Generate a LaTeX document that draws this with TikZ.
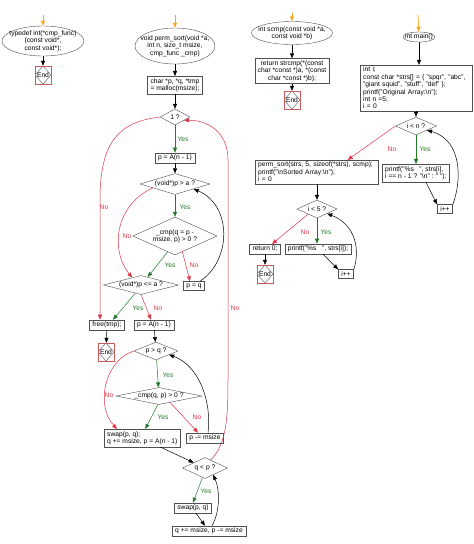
\documentclass[tikz,border=0pt]{standalone}
\usepackage{fontspec}
\setmainfont{Liberation Sans}
\usetikzlibrary{shapes.geometric,arrows.meta}
\definecolor{yescol}{RGB}{34,120,40}
\definecolor{nocol}{RGB}{225,50,70}
\definecolor{startcol}{RGB}{250,165,30}
\definecolor{linecol}{RGB}{80,80,80}
\definecolor{endcol}{RGB}{205,90,90}
\begin{document}
\begin{tikzpicture}[x=1pt,y=-1pt,
  font=\fontsize{6.7}{7.4}\selectfont,
  proc/.style={rectangle,draw=linecol,fill=white,align=center,inner xsep=3pt,inner ysep=2pt},
  term/.style={ellipse,draw=linecol,fill=white,align=center,inner xsep=-12pt,inner ysep=-6pt},
  decide/.style={diamond,draw=linecol,fill=white,align=center,aspect=3,inner sep=-3pt},
  stopbox/.style={rectangle,draw=endcol,minimum width=16pt,minimum height=18pt,inner sep=0pt,
    path picture={\draw[linecol] (path picture bounding box.north) -- (path picture bounding box.east)
      -- (path picture bounding box.south) -- (path picture bounding box.west) -- cycle;}},
  flow/.style={-{Triangle[length=5pt,width=4pt]},black,line width=0.5pt},
  yesarr/.style={flow,yescol},
  noarr/.style={flow,nocol},
  startarr/.style={flow,startcol,line width=0.8pt},
  yeslbl/.style={text=yescol,inner sep=0pt},
  nolbl/.style={text=nocol,inner sep=0pt}]
\useasboundingbox (0,0) rectangle (474,544);

% typedef
\coordinate (s1) at (43,15);
\node[term,minimum width=82pt,minimum height=30pt] (tdef) at (43,41) {typedef int(*cmp\_func)\\(const void*,\\const void*);};
\node[stopbox] (e1) at (43,75) {End};
\draw[startarr] (s1) -- (tdef);
\draw[flow] (tdef) -- (e1);

% perm_sort
\coordinate (s2) at (175,15);
\node[term,minimum width=80pt,minimum height=36pt] (psort) at (175,46) {void perm\_sort(void *a,\\int n, size\_t msize,\\cmp\_func \_cmp)};
\node[proc] (alloc) at (175,85) {char *p, *q, *tmp\\= malloc(msize);};
\node[decide,minimum width=30pt,minimum height=16pt] (one) at (175,117) {1 ?};
\node[proc] (pinit) at (175,158) {p = A(n - 1)};
\node[decide,minimum width=70pt,minimum height=21pt] (pgta) at (175,184) {(void*)p > a ?};
\node[decide,minimum width=84pt,minimum height=38pt] (cmpa) at (175,236) {\_cmp(q = p -\\msize, p) > 0 ?};
\node[decide,minimum width=75pt,minimum height=19pt] (plea) at (141,285) {(void*)p <= a ?};
\node[proc] (peqq) at (194,286) {p = q};
\node[proc] (free) at (107,325) {free(tmp);};
\node[proc] (preset) at (154,325) {p = A(n - 1)};
\node[stopbox] (e2) at (106,352) {End};
\node[decide,minimum width=44pt,minimum height=18pt] (pgtq) at (156,351) {p > q ?};
\node[decide,minimum width=86pt,minimum height=17pt] (cmpb) at (159,396) {\_cmp(q, p) > 0 ?};
\node[proc,align=left,anchor=west] (swapa) at (104,438) {swap(p, q);\\q += msize, p = A(n - 1)};
\node[proc] (pdec) at (205,438) {p -= msize};
\node[decide,minimum width=45pt,minimum height=21pt] (qltp) at (205,468) {q < p ?};
\node[proc] (swapb) at (193,508) {swap(p, q)};
\node[proc] (qstep) at (209,531) {q += msize, p -= msize};

\draw[startarr] (s2) -- (psort);
\draw[flow] (psort) -- (alloc);
\draw[flow] (alloc) -- (one);
\draw[yesarr] (one) -- (pinit);
\draw[noarr] (one.west) .. controls (120,122) and (100,140) .. (100,200) -- ([xshift=-7pt]free.north);
\draw[flow] (pinit) -- (pgta);
\draw[yesarr] (pgta) -- (cmpa);
\draw[noarr] (pgta.190) .. controls (115,205) and (110,250) .. (plea.140);
\draw[yesarr] (cmpa.245) -- (plea.50);
\draw[noarr] (cmpa.-65) -- ([xshift=-4pt]peqq.north);
\draw[flow] ([xshift=6pt]peqq.north) .. controls (232,260) and (232,205) .. (pgta.-15);
\draw[yesarr] (plea.235) -- ([xshift=6pt]free.north);
\draw[noarr] (plea.south) -- ([xshift=-3pt]preset.north);
\draw[flow] (free) -- (e2);
\draw[flow] (preset) -- (pgtq);
\draw[yesarr] (pgtq) -- (cmpb);
\draw[noarr] (pgtq.west) .. controls (105,360) and (95,405) .. ([xshift=13pt]swapa.north west);
\draw[yesarr] (cmpb.262) -- ([xshift=3pt]swapa.north);
\draw[noarr] (cmpb.-30) -- ([xshift=-7pt]pdec.north);
\draw[flow] ([xshift=3pt]pdec.north) .. controls (212,400) and (198,365) .. (pgtq.-16);
\draw[flow] ([xshift=18pt]swapa.south) -- (qltp.north west);
\draw[noarr] (qltp.55) .. controls (226,445) and (228,420) .. (228,380) -- (228,160)
  .. controls (228,130) and (205,120) .. (one.-20);
\draw[yesarr] (qltp.255) -- (swapb.north);
\draw[flow] ([xshift=3pt]swapb.south) -- ([xshift=-4pt]qstep.north);
\draw[flow] ([xshift=3pt]qstep.north) .. controls (220,512) and (220,490) .. (qltp.-40);

\node[yeslbl] (ly1) at (183,139) {Yes};
\node[nolbl] (ln1) at (104,207) {No};
\node[yeslbl] (ly2) at (185,207) {Yes};
\node[nolbl] (ln2) at (127,236) {No};
\node[yeslbl] (ly3) at (170,265) {Yes};
\node[nolbl] (ln3) at (194,265) {No};
\node[yeslbl] (ly4) at (138,308) {Yes};
\node[nolbl] (ln4) at (158,308) {No};
\node[yeslbl] (ly5) at (168,375) {Yes};
\node[nolbl] (ln5) at (109,395) {No};
\node[yeslbl] (ly6) at (163,417) {Yes};
\node[nolbl] (ln6) at (197,417) {No};
\node[nolbl] (ln7) at (235,308) {No};
\node[yeslbl] (ly7) at (206,491) {Yes};

% scmp
\coordinate (s3) at (292,13);
\node[term,minimum width=81pt,minimum height=23pt] (scmp) at (292,33) {int scmp(const void *a,\\const void *b)};
\node[proc] (ret) at (292,71) {return strcmp(*(const\\char *const *)a, *(const\\char *const *)b);};
\node[stopbox] (e3) at (292,100) {End};
\draw[startarr] (s3) -- (scmp);
\draw[flow] (scmp) -- (ret);
\draw[flow] (ret) -- (e3);

% main
\coordinate (s4) at (418,15);
\node[term,minimum width=32pt,minimum height=10pt] (main) at (419,37) {int main()};
\node[proc,align=left,anchor=west,text width=106pt] (init) at (360,88) {int i;\\const char *strs[] = \{ "spqr", "abc",\\"giant squid", "stuff", "def" \};\\printf("Original Array:\textbackslash n");\\int n =5;\\i = 0};
\node[decide,minimum width=41pt,minimum height=18pt] (iltn) at (416,126) {i < n ?};
\node[proc,align=left,anchor=west] (pr1) at (382,173) {printf("\%s\ \ \ ", strs[i],\\i == n - 1 ? "\textbackslash n" : " ");};
\node[proc] (inc1) at (445,209) {i++};
\node[proc,align=left,anchor=west,text width=117pt] (sort) at (255,172) {perm\_sort(strs, 5, sizeof(*strs), scmp);\\printf("\textbackslash nSorted Array:\textbackslash n");\\i = 0};
\node[decide,minimum width=40pt,minimum height=18pt] (ilt5) at (317,209) {i < 5 ?};
\node[proc] (ret0) at (265,249) {return 0;};
\node[proc] (pr2) at (318,249) {printf("\%s\ \ \ ", strs[i]);};
\node[proc] (inc2) at (346,274) {i++};
\node[stopbox] (e4) at (265,274) {End};

\draw[startarr] (s4) -- (main);
\draw[flow] (main) -- (main |- init.north);
\draw[flow] (iltn |- init.south) -- (iltn);
\draw[yesarr] (iltn) -- (iltn |- pr1.north);
\draw[noarr] (iltn.west) -- ([xshift=31pt]sort.north);
\draw[flow] ([xshift=10pt]pr1.south) -- (inc1.north west);
\draw[flow] (inc1.north east) .. controls (462,180) and (462,140) .. (iltn.-21);
\draw[flow] (ilt5 |- sort.south) -- (ilt5);
\draw[noarr] (ilt5.210) -- ([xshift=7pt]ret0.north);
\draw[yesarr] (ilt5) -- (ilt5 |- pr2.north);
\draw[flow] ([xshift=5pt]pr2.south) -- (inc2.north west);
\draw[flow] (inc2.north east) .. controls (360,250) and (356,225) .. (ilt5.-24);
\draw[flow] (ret0) -- (e4);

\node[yeslbl] (ly8) at (425,149) {Yes};
\node[nolbl] (ln8) at (392,149) {No};
\node[nolbl] (ln9) at (305,232) {No};
\node[yeslbl] (ly9) at (326,232) {Yes};
\end{tikzpicture}
\end{document}
